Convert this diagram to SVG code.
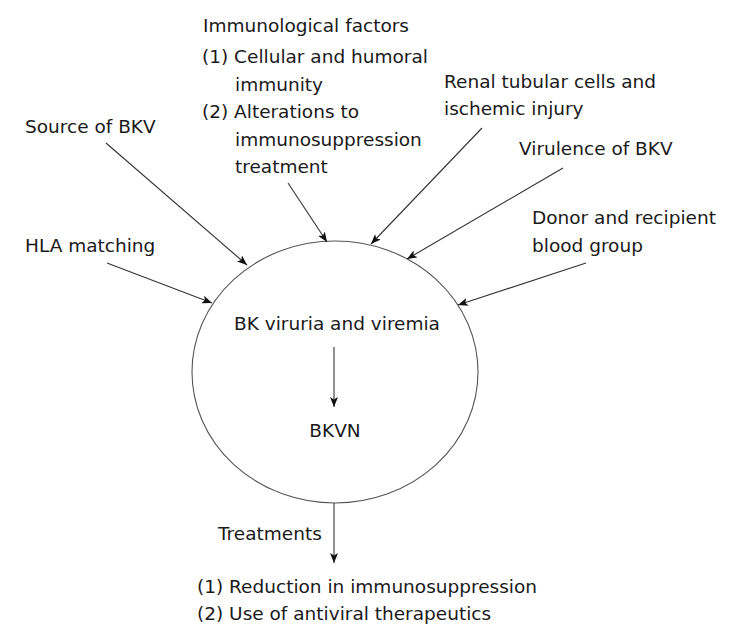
<svg xmlns="http://www.w3.org/2000/svg" width="740" height="640" viewBox="0 0 740 640">
<style>
text{font-family:"DejaVu Sans","Liberation Sans",sans-serif;font-size:18.5px;fill:#1a1a1a}
.c{stroke:#333;stroke-width:1.1;fill:none;marker-end:url(#ah)}
</style>
<defs>
<marker id="ah" viewBox="0 0 10 8" refX="10" refY="4" markerWidth="10" markerHeight="8" markerUnits="userSpaceOnUse" orient="auto">
<path d="M0,0 L10,4 L0,8 L2.5,4 Z" fill="#111"/>
</marker>
</defs>
<rect width="740" height="640" fill="#fff"/>
<g id="center">
<ellipse cx="335" cy="372" rx="143" ry="131" fill="none" stroke="#555" stroke-width="1.1"/>
<text x="337" y="330" text-anchor="middle">BK viruria and viremia</text>
<text x="335" y="437" text-anchor="middle">BKVN</text>
</g>
<g id="immuno">
<text x="203" y="32">Immunological factors</text>
<text x="202" y="63">(1) Cellular and humoral</text>
<text x="235" y="91">immunity</text>
<text x="202" y="118">(2) Alterations to</text>
<text x="235" y="146">immunosuppression</text>
<text x="235" y="173">treatment</text>
</g>
<g id="source"><text x="25" y="133">Source of BKV</text></g>
<g id="hla"><text x="25" y="252">HLA matching</text></g>
<g id="renal">
<text x="444" y="88">Renal tubular cells and</text>
<text x="444" y="115">ischemic injury</text>
</g>
<g id="virulence"><text x="519" y="155">Virulence of BKV</text></g>
<g id="donor">
<text x="532" y="224">Donor and recipient</text>
<text x="532" y="252">blood group</text>
</g>
<g id="treatments">
<text x="218" y="540">Treatments</text>
<text x="197" y="593">(1) Reduction in immunosuppression</text>
<text x="197" y="620">(2) Use of antiviral therapeutics</text>
</g>
<g id="connectors">
<line class="c" x1="288" y1="183" x2="327" y2="242"/>
<line class="c" x1="106" y1="143" x2="247" y2="265"/>
<line class="c" x1="107" y1="263" x2="212" y2="303"/>
<line class="c" x1="482" y1="128" x2="371" y2="244"/>
<line class="c" x1="563" y1="168" x2="407" y2="259"/>
<line class="c" x1="586" y1="263" x2="458" y2="305"/>
<line class="c" x1="334" y1="347" x2="334" y2="407"/>
<line class="c" x1="334" y1="503" x2="334" y2="563"/>
</g>
</svg>
